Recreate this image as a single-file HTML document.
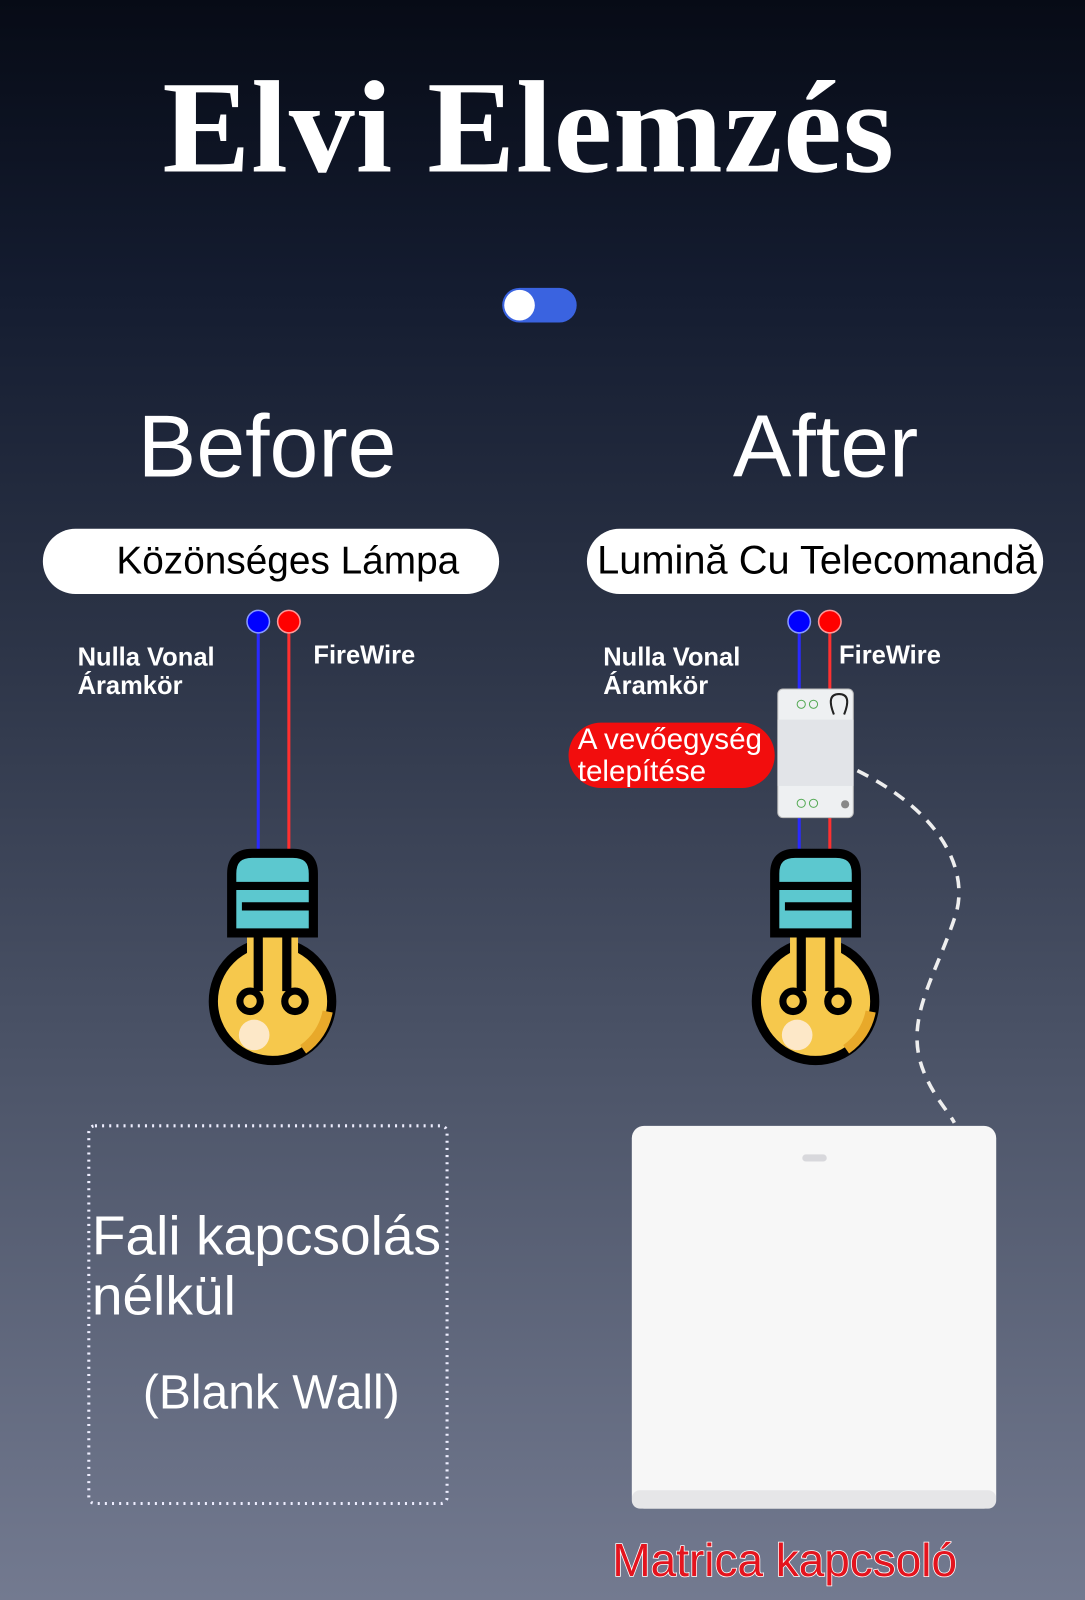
<!DOCTYPE html>
<html><head><meta charset="utf-8"><style>
body{margin:0;width:1085px;height:1600px;overflow:hidden;background:#737a90}
#c{position:relative;width:1063px;height:1568px;overflow:hidden;transform:scale(1.0207);transform-origin:0 0;background:linear-gradient(#070b16 0%,#141c30 18%,#2c3447 40%,#4a5266 65%,#737a90 100%);font-family:"Liberation Sans","DejaVu Sans",sans-serif;color:#fff}
.a{position:absolute;white-space:nowrap}
.pill{position:absolute;background:#fff;border-radius:33px;color:#000;font-size:38px;line-height:64px;height:64px}
.lbl{font-size:25px;line-height:28px;font-weight:bold}
</style></head><body><div id="c">
<div class="a" style="left:0;width:1036px;text-align:center;top:52px;font-family:'Liberation Serif',serif;font-weight:bold;font-size:129px;line-height:146px;letter-spacing:1px">Elvi Elemzés</div>
<div class="a" style="left:492px;top:282px;width:73px;height:34px;border-radius:17px;background:#3a63e0"></div>
<div class="a" style="left:494px;top:284px;width:30px;height:30px;border-radius:15px;background:#fff"></div>
<div class="a" style="left:135px;top:390px;font-size:86px;line-height:96px">Before</div>
<div class="a" style="left:718px;top:390px;font-size:86px;line-height:96px">After</div>
<div class="pill" style="left:42px;top:518px;width:447px"><span style="position:absolute;left:72px">Közönséges Lámpa</span></div>
<div class="pill" style="left:575px;top:518px;width:447px"><span style="position:absolute;left:10px;font-size:39px">Lumină Cu Telecomandă</span></div>
<div class="a lbl" style="left:76px;top:630px">Nulla Vonal<br>Áramkör</div>
<div class="a lbl" style="left:307px;top:628px">FireWire</div>
<div class="a lbl" style="left:591px;top:630px">Nulla Vonal<br>Áramkör</div>
<div class="a lbl" style="left:822px;top:628px">FireWire</div>
<svg class="a" style="left:0;top:0" width="1085" height="1600">
<defs><g id="bulb">
<circle cx="0" cy="135" r="58" fill="#f6c84c" stroke="#000" stroke-width="9"/>
<path d="M30 182 A58 58 0 0 0 54 145" fill="none" stroke="#e8a92a" stroke-width="10"/>
<circle cx="-18" cy="168" r="15" fill="#fde8c8"/>
<rect x="-25" y="50" width="50" height="40" fill="#f6c84c"/>
<path d="M-14 65 V125 M14 65 V125" stroke="#000" stroke-width="9" fill="none"/>
<circle cx="-22" cy="135" r="10" fill="none" stroke="#000" stroke-width="7"/>
<circle cx="22" cy="135" r="10" fill="none" stroke="#000" stroke-width="7"/>
<path d="M-40 10 Q-40 -10 -20 -10 H20 Q40 -10 40 10 V68 H-40 Z" fill="#5cc8cf" stroke="#000" stroke-width="9"/>
<path d="M-40 22 H40 M-30 42 H40" stroke="#000" stroke-width="8"/>
</g></defs>
<g stroke-width="3">
<line x1="253" y1="615" x2="253" y2="832" stroke="#2a2aff"/><line x1="283" y1="615" x2="283" y2="832" stroke="#ff3030"/>
<line x1="783" y1="615" x2="783" y2="832" stroke="#2a2aff"/><line x1="813" y1="615" x2="813" y2="832" stroke="#ff3030"/>
</g>
<circle cx="253" cy="609" r="11" fill="#0000ff" stroke="#8899ff" stroke-width="1.5"/><circle cx="283" cy="609" r="11" fill="#ff0000" stroke="#ff9999" stroke-width="1.5"/>
<circle cx="783" cy="609" r="11" fill="#0000ff" stroke="#8899ff" stroke-width="1.5"/><circle cx="813" cy="609" r="11" fill="#ff0000" stroke="#ff9999" stroke-width="1.5"/>
<use href="#bulb" x="267" y="846"/>
<use href="#bulb" x="799" y="846"/>
<rect x="762" y="675" width="74" height="126" rx="5" fill="#eef0f2" stroke="#bbb"/>
<rect x="762" y="705" width="74" height="65" fill="#e2e4e8"/>
<circle cx="785" cy="690" r="4" fill="none" stroke="#5a5"/><circle cx="797" cy="690" r="4" fill="none" stroke="#5a5"/>
<path d="M817 700 q-8 -20 5 -20 q13 0 5 20" fill="none" stroke="#222" stroke-width="2"/>
<circle cx="785" cy="787" r="4" fill="none" stroke="#5a5"/><circle cx="797" cy="787" r="4" fill="none" stroke="#5a5"/>
<circle cx="828" cy="788" r="4" fill="#888"/>
<path d="M840 755 C930 800 950 860 935 900 C915 960 885 1000 905 1050 C915 1075 930 1090 935 1100" fill="none" stroke="#eee" stroke-width="3.5" stroke-dasharray="12 9"/>
<rect x="619" y="1103" width="357" height="375" rx="12" fill="#f7f7f7"/>
<rect x="619" y="1460" width="357" height="18" rx="8" fill="#e6e6e8"/>
<rect x="786" y="1131" width="24" height="7" rx="3.5" fill="#d8d8dc"/>
<rect x="87" y="1103" width="351" height="370" rx="6" fill="none" stroke="#eef" stroke-width="3" stroke-dasharray="2 5"/>
</svg>
<div class="a" style="left:557px;top:708px;width:202px;height:64px;border-radius:32px;background:#f20d0d"></div>
<div class="a" style="left:566px;top:710px;font-size:29px;line-height:31px">A vevőegység<br>telepítése</div>
<div class="a" style="left:90px;top:1182px;font-size:54px;line-height:59px">Fali kapcsolás<br>nélkül</div>
<div class="a" style="left:140px;top:1336px;font-size:47px;line-height:56px">(Blank Wall)</div>
<div class="a" style="left:600px;top:1502px;font-size:45px;line-height:54px;color:#e4141e;-webkit-text-stroke:1.5px #fff;paint-order:stroke fill">Matrica kapcsoló</div>
</div></body></html>
